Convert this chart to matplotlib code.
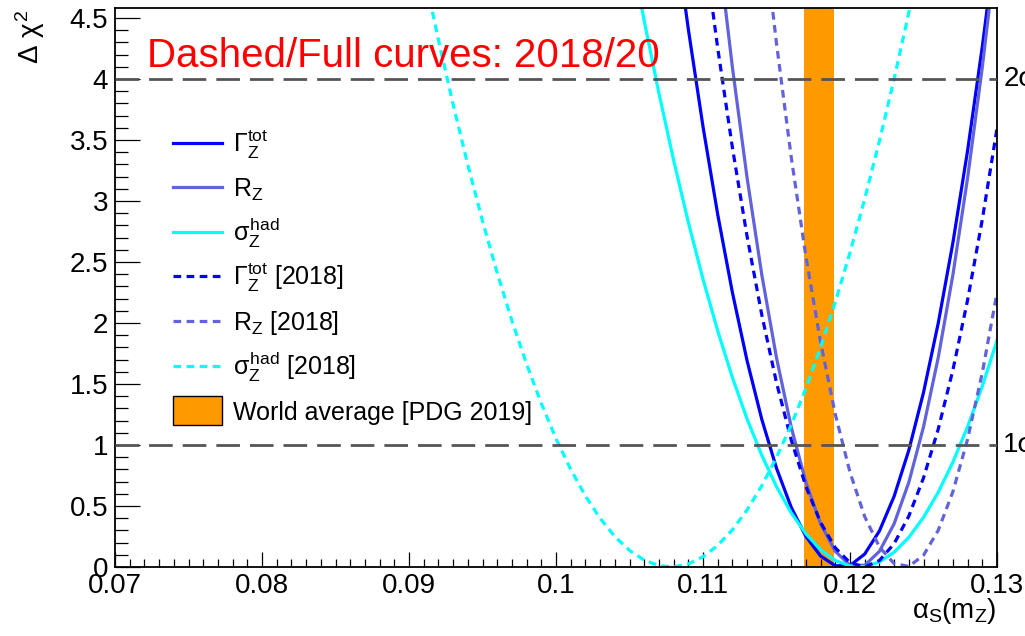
import numpy as np
import matplotlib
matplotlib.use("Agg")
import matplotlib.pyplot as plt
from matplotlib.ticker import MultipleLocator
from matplotlib.patches import Rectangle

plt.rcParams["font.family"] = ["Liberation Sans", "DejaVu Sans"]
plt.rcParams["mathtext.fontset"] = "custom"
plt.rcParams["mathtext.rm"] = "Liberation Sans"
plt.rcParams["mathtext.it"] = "Liberation Sans"
plt.rcParams["mathtext.bf"] = "Liberation Sans:bold"

# ---------- data ----------
# alpha_s grid, 0.090 ... 0.130 in steps of 0.001
alpha_s = np.round(np.arange(0.090, 0.13005, 0.001), 3)
nan = np.nan

# 2020 curves (solid)
gamma_tot_2020 = [nan] * 18 + [
    5.29, 4.41, 3.61, 2.89, 2.25, 1.69, 1.21, 0.81, 0.49, 0.25, 0.09, 0.01,
    0.012, 0.106, 0.295, 0.579, 0.957, 1.430, 1.997, 2.658, 3.414, 4.265, 5.210,
]
r_z_2020 = [nan] * 21 + [
    5.116, 4.096, 3.189, 2.395, 1.715, 1.148, 0.694, 0.354, 0.128, 0.014,
    0.014, 0.128, 0.354, 0.694, 1.148, 1.715, 2.395, 3.189, 4.096, 5.116,
]
sigma_had_2020 = [nan] * 15 + [
    5.112, 4.477, 3.885, 3.335, 2.826, 2.360, 1.936, 1.553, 1.213, 0.915,
    0.659, 0.444, 0.272, 0.142, 0.054, 0.008, 0.003, 0.041, 0.121, 0.243,
    0.407, 0.612, 0.860, 1.150, 1.482, 1.856,
]

# 2018 curves (dashed)
gamma_tot_2018 = [nan] * 20 + [
    5.157, 4.254, 3.438, 2.709, 2.066, 1.511, 1.042, 0.660, 0.365, 0.157,
    0.035, 0.0004, 0.053, 0.191, 0.417, 0.730, 1.129, 1.615, 2.188, 2.848, 3.594,
]
r_z_2018 = [nan] * 24 + [
    5.334, 4.291, 3.361, 2.545, 1.842, 1.252, 0.776, 0.413, 0.164, 0.028,
    0.005, 0.096, 0.300, 0.617, 1.048, 1.592, 2.25,
]
sigma_had_2018 = [
    5.486, 4.886, 4.322, 3.792, 3.297, 2.837, 2.411, 2.019, 1.663, 1.341,
    1.053, 0.801, 0.582, 0.399, 0.250, 0.136, 0.056, 0.011, 0.0007, 0.025,
    0.084, 0.177, 0.305, 0.468, 0.666, 0.898, 1.164, 1.465, 1.801, 2.172,
    2.577, 3.017, 3.491, 4.000, 4.544, 5.122,
] + [nan] * 5

# world average band
pdg_low, pdg_high = 0.1169, 0.1189
sigma_levels = [1, 4]
sigma_names = ["1\u03c3", "2\u03c3"]

x_ticks = [0.07, 0.08, 0.09, 0.10, 0.11, 0.12, 0.13]
x_tick_labels = ["0.07", "0.08", "0.09", "0.1", "0.11", "0.12", "0.13"]
y_ticks = [0, 0.5, 1, 1.5, 2, 2.5, 3, 3.5, 4, 4.5]
y_tick_labels = ["0", "0.5", "1", "1.5", "2", "2.5", "3", "3.5", "4", "4.5"]

BLUE = "#0000ff"
PURPLE = "#6262dc"
CYAN = "#00ffff"
ORANGE = "#ff9900"
DOT = (0, (2.4, 1.7))

series = [
    (gamma_tot_2020, BLUE, "-", r"$\Gamma_{Z}^{tot}$"),
    (r_z_2020, PURPLE, "-", r"$R_{Z}$"),
    (sigma_had_2020, CYAN, "-", r"$\sigma_{Z}^{had}$"),
    (gamma_tot_2018, BLUE, DOT, r"$\Gamma_{Z}^{tot}$ [2018]"),
    (r_z_2018, PURPLE, DOT, r"$R_{Z}$ [2018]"),
    (sigma_had_2018, CYAN, DOT, r"$\sigma_{Z}^{had}$ [2018]"),
]

# ---------- figure ----------
W, H = 1025, 636
fig = plt.figure(figsize=(W / 100, H / 100), dpi=100)
ax = fig.add_axes([115 / W, 1 - 567 / H, 882 / W, 559 / H])

ax.axvspan(pdg_low, pdg_high, color=ORANGE, lw=0, zorder=1)

for lvl in sigma_levels:
    ax.axhline(lvl, color="#555555", lw=2.0, ls=(0, (8.5, 3.6)), zorder=3)

for vals, col, ls, lab in series:
    ax.plot(alpha_s, vals, color=col, ls=ls, lw=2.3, zorder=2)

ax.set_xlim(0.07, 0.13)
ax.set_ylim(0, 4.582)

ax.set_xticks(x_ticks)
ax.set_xticklabels(x_tick_labels)
ax.set_yticks(y_ticks)
ax.set_yticklabels(y_tick_labels)
ax.xaxis.set_minor_locator(MultipleLocator(0.001))
ax.yaxis.set_minor_locator(MultipleLocator(0.1))
ax.tick_params(axis="both", which="both", direction="in", top=False, right=False,
               width=0.9, labelsize=20)
ax.tick_params(axis="x", which="major", length=11, pad=4)
ax.tick_params(axis="x", which="minor", length=5.5)
ax.tick_params(axis="y", which="major", length=18, pad=5)
ax.tick_params(axis="y", which="minor", length=9)
for sp in ax.spines.values():
    sp.set_linewidth(1.3)

# sigma labels at the right edge (cut by the canvas, as in the original)
for lvl, name in zip(sigma_levels, sigma_names):
    ax.text(1.007, lvl, name, transform=ax.get_yaxis_transform(), fontsize=20,
            va="center", ha="left", clip_on=False)

# red annotation
ax.text(0.036, 0.894, "Dashed/Full curves: 2018/20", transform=ax.transAxes,
        color="#ff0000", fontsize=29, va="baseline", ha="left")

# axis titles (ROOT style: at the ends of the axes)
fig.text(996 / W, 1 - 596 / H, r"$\alpha_{S}(m_{Z})$", fontsize=20,
         ha="right", va="top")
fig.text(30 / W, 1 - 10 / H, r"$\Delta\ \chi^{2}$", fontsize=20, rotation=90,
         ha="center", va="top")

# ---------- legend ----------
lx0, lx1, tx = 0.0658, 0.1213, 0.1338
row_y = [0.7585, 0.6789, 0.5993, 0.5197, 0.4401, 0.3596, 0.2791]
for (vals, col, ls, lab), y in zip(series, row_y):
    ax.plot([lx0, lx1], [y, y], transform=ax.transAxes, color=col, ls=ls,
            lw=2.3, clip_on=False)
    ax.text(tx, y - 0.016, lab, transform=ax.transAxes, fontsize=18,
            va="baseline", ha="left")
box_h = 29 / 559
ax.add_patch(Rectangle((lx0, row_y[6] - box_h / 2), lx1 - lx0, box_h,
                       transform=ax.transAxes, facecolor=ORANGE,
                       edgecolor="black", lw=1.0, clip_on=False))
ax.text(tx, row_y[6] - 0.016, "World average [PDG 2019]", transform=ax.transAxes,
        fontsize=18, va="baseline", ha="left")

fig.savefig("out.png", dpi=100)
